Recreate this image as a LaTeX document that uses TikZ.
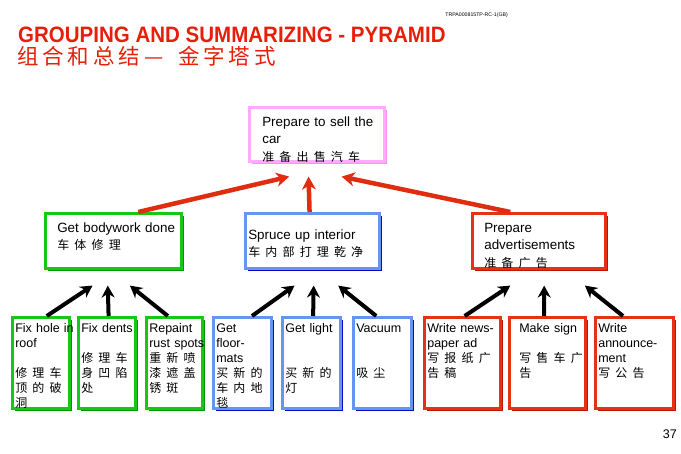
\documentclass[tikz,border=0pt]{standalone}
\usepackage{fontspec}
\setmainfont{Liberation Sans}
\newfontfamily\cjk[LetterSpace=43]{Noto Sans CJK SC}
\newfontfamily\cjktitle[LetterSpace=18]{Noto Sans CJK SC}
\newfontfamily\titlefont[FakeStretch=0.92]{Liberation Sans}
\usetikzlibrary{arrows.meta, calc, shadows}
\hyphenpenalty=10000
\exhyphenpenalty=10000
\definecolor{titlered}{RGB}{230,30,10}
\definecolor{arrowred}{RGB}{225,45,15}
\definecolor{grnedge}{RGB}{20,200,20}
\definecolor{grnshade}{RGB}{0,150,0}
\definecolor{bluedge}{RGB}{100,150,240}
\definecolor{blushade}{RGB}{10,10,190}
\definecolor{rededge}{RGB}{230,50,20}
\definecolor{redshade}{RGB}{190,20,0}
\definecolor{pinkedge}{RGB}{255,170,255}
\definecolor{pinkshade}{RGB}{240,150,240}
\newcommand\zh[1]{{\fontsize{12}{12}\selectfont\cjk #1}}
\tikzset{
  taskbox/.style={
    draw, line width=2.6pt, fill=white, align=left, anchor=north west
  },
  toptask/.style={
    taskbox, font=\fontsize{13.4}{17.5}\selectfont,
    text height=10pt, text depth=26pt, inner ysep=9pt
  },
  midtask/.style={
    taskbox, font=\fontsize{13.4}{17.5}\selectfont,
    text height=10pt, text depth=27pt, inner ysep=9pt
  },
  subtask/.style={
    taskbox, font=\fontsize{12.5}{15}\selectfont,
    text height=9pt, text depth=70pt, inner ysep=6pt, inner xsep=3pt
  },
  pinkbox/.style={draw=pinkedge,
    drop shadow={shadow xshift=3pt, shadow yshift=-3pt, fill=pinkshade, opacity=1}},
  greenbox/.style={draw=grnedge,
    drop shadow={shadow xshift=3pt, shadow yshift=-3pt, fill=grnshade, opacity=1}},
  bluebox/.style={draw=bluedge,
    drop shadow={shadow xshift=3pt, shadow yshift=-3pt, fill=blushade, opacity=1}},
  redbox/.style={draw=rededge,
    drop shadow={shadow xshift=3pt, shadow yshift=-3pt, fill=redshade, opacity=1}},
  redarrow/.style={
    draw=arrowred, line width=4.5pt, -{Stealth[length=13pt, width=14pt, inset=4pt]}
  },
  blackarrow/.style={
    draw=black, line width=4pt, -{Stealth[length=12pt, width=13pt, inset=4pt]}
  },
}
\begin{document}
\begin{tikzpicture}[x=1pt, y=-1pt]
  \useasboundingbox (0,0) rectangle (681,454);

  % --- Heading ---
  \node[font=\fontsize{5.2}{6}\selectfont, anchor=east, inner sep=0] (docid)
    at (508,15) {TRPA000815TP-RC-1(GB)};
  \node[font=\titlefont\bfseries\fontsize{22.3}{24}\selectfont, text=titlered,
    anchor=base west, inner sep=0] (title) at (18,43)
    {GROUPING AND SUMMARIZING - PYRAMID};
  \node[font=\fontsize{21.5}{23}\selectfont\cjktitle, text=titlered,
    anchor=base west, inner sep=0] (subtitle) at (17,65)
    {组合和总结—\hspace{15pt}金字塔式};

  % --- Top ---
  \node[toptask, pinkbox, inner xsep=13pt, text width=109pt] (sell) at (248,106)
    {Prepare~to~sell~the\\car\\\zh{准备出售汽车}};

  % --- Middle ---
  \node[midtask, greenbox, inner xsep=12pt, text width=112pt] (body) at (44,212)
    {Get~bodywork~done\\\zh{车体修理}};
  \node[midtask, bluebox, inner xsep=3pt, text width=128pt,
    inner ysep=16pt, text depth=13pt] (interior) at (244,212)
    {Spruce~up~interior\\\zh{车内部打理乾净}};
  \node[midtask, redbox, inner xsep=12pt, text width=109pt] (adverts) at (471,212)
    {Prepare\\advertisements\\\zh{准备广告}};

  % --- Bottom ---
  \node[subtask, greenbox, text width=51pt] (hole) at (11,316)
    {Fix~hole~in\\roof\\[15pt]\zh{修理车}\\\zh{顶的破}\\\zh{洞}};
  \node[subtask, greenbox, text width=51pt] (dents) at (77,316)
    {Fix~dents\\[15pt]\zh{修理车}\\\zh{身凹陷}\\\zh{处}};
  \node[subtask, greenbox, text width=50pt] (rust) at (145,316)
    {Repaint\\rust~spots\\\zh{重新喷}\\\zh{漆遮盖}\\\zh{锈斑}};
  \node[subtask, bluebox, text width=52pt] (mats) at (212,316)
    {Get\\floor-\\mats\\\zh{买新的}\\\zh{车内地}\\\zh{毯}};
  \node[subtask, bluebox, text width=52pt] (light) at (281,316)
    {Get~light\\[30pt]\zh{买新的}\\\zh{灯}};
  \node[subtask, bluebox, text width=52pt] (vacuum) at (352,316)
    {Vacuum\\[30pt]\zh{吸尘}};
  \node[subtask, redbox, text width=70pt] (newsad) at (423,316)
    {Write~news-\\paper~ad\\\zh{写报纸广}\\\zh{告稿}};
  \node[subtask, redbox, inner xsep=10pt, text width=56pt] (sign) at (508,316)
    {Make~sign\\[15pt]\zh{写售车广}\\\zh{告}};
  \node[subtask, redbox, text width=72pt] (notice) at (594,316)
    {Write\\announce-\\ment\\\zh{写公告}};

  % Arrows
  \foreach \src/\a/\b in {body/0.68/0.30, interior/0.48/0.44, adverts/0.29/0.68}
    \draw[redarrow] ($(\src.north west)!\a!(\src.north east)$)
      -- ($(sell.south west)!\b!(sell.south east)+(0,14)$);
  \foreach \src/\a/\dst/\b in {hole/0.6/body/0.35, dents/0.53/body/0.46,
      rust/0.39/body/0.62, mats/0.66/interior/0.37, light/0.53/interior/0.51,
      vacuum/0.4/interior/0.69, newsad/0.53/adverts/0.29,
      sign/0.46/adverts/0.54, notice/0.36/adverts/0.84}
    \draw[blackarrow] ($(\src.north west)!\a!(\src.north east)$)
      -- ($(\dst.south west)!\b!(\dst.south east)+(0,16)$);

  % Page number
  \node[font=\fontsize{12.5}{14}\selectfont, anchor=east, inner sep=0] (page)
    at (677,434) {37};
\end{tikzpicture}
\end{document}
